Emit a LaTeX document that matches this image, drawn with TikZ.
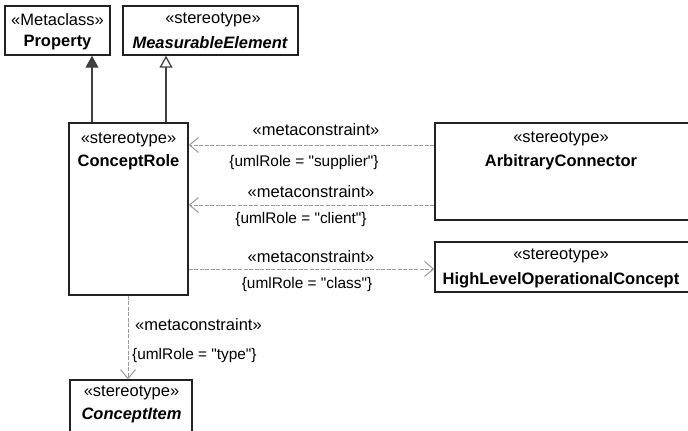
\documentclass[tikz,border=0pt]{standalone}
\usepackage{fontspec}
\setmainfont{Liberation Sans}[Ligatures=TeXOff]
\usetikzlibrary{arrows.meta}
\definecolor{boxline}{HTML}{222222}
\definecolor{genline}{HTML}{404040}
\definecolor{depline}{HTML}{9A9A9A}
\tikzset{
  umlbox/.style={draw=boxline, line width=1.4pt, fill=white, rectangle, inner sep=0pt},
  kw/.style={font=\fontsize{16.5}{19}\selectfont, inner sep=0pt, text=black},
  nm/.style={font=\fontsize{16.5}{19}\selectfont\bfseries, inner sep=0pt, text=black},
  nmi/.style={font=\fontsize{16.5}{19}\selectfont\bfseries\itshape, inner sep=0pt, text=black},
  cons/.style={font=\fontsize{15.4}{18}\selectfont, inner sep=0pt, text=black},
  gen/.style={draw=genline, line width=1.3pt},
  genfilled/.style={gen, -{Triangle[length=12pt,width=13pt,fill=genline]}},
  genopen/.style={gen, -{Triangle[open,length=12pt,width=13pt,fill=white]}},
  dep/.style={draw=depline, line width=1pt, dash pattern=on 4pt off 1.5pt, -{Straight Barb[length=9pt,width=15pt,line width=1pt]}}
}
\begin{document}
\begin{tikzpicture}[x=1pt,y=-1pt]
\useasboundingbox (0,0) rectangle (688,431);
% boxes
\node[umlbox, minimum width=105pt, minimum height=49pt] (prop) at (57.5,30.5) {};
\node[umlbox, minimum width=175pt, minimum height=49pt] (meas) at (210.5,30.5) {};
\node[umlbox, minimum width=119pt, minimum height=172pt] (role) at (128.5,209) {};
\node[umlbox, minimum width=258pt, minimum height=97pt] (arb) at (564,171.5) {};
\node[umlbox, minimum width=258pt, minimum height=50pt] (hloc) at (564,267) {};
\node[umlbox, minimum width=122pt, minimum height=60pt] (item) at (131,410) {};
% box texts
\node[kw] (propk) at (57.5,20) {«Metaclass»};
\node[nm] (propn) at (57.5,43) {Property};
\node[kw] (meask) at (213,20) {«stereotype»};
\node[nmi] (measn) at (210,43) {MeasurableElement};
\node[kw] (rolek) at (128.5,140) {«stereotype»};
\node[nm] (rolen) at (128.5,162) {ConceptRole};
\node[kw] (arbk) at (561,139) {«stereotype»};
\node[nm] (arbn) at (561,162) {ArbitraryConnector};
\node[kw] (hlock) at (561,256) {«stereotype»};
\node[nm] (hlocn) at (561,280) {HighLevelOperationalConcept};
\node[kw] (itemk) at (131.5,393) {«stereotype»};
\node[nmi] (itemn) at (131.5,415) {ConceptItem};
% generalizations
\draw[genfilled] (92,0 |- role.north) -- (92,0 |- prop.south);
\draw[genopen] (166,0 |- role.north) -- (166,0 |- meas.south);
% dependencies
\draw[dep] (arb.west |- 0,145) -- (role.east |- 0,145);
\draw[dep] (arb.west |- 0,205) -- (role.east |- 0,205);
\draw[dep] (role.east |- 0,269) -- (hloc.west |- 0,269);
\draw[dep] (128,0 |- role.south) -- (128,0 |- item.north);
% labels
\node[kw] (l1k) at (316,130) {«metaconstraint»};
\node[cons] (l1c) at (304,163) {\{umlRole = "supplier"\}};
\node[kw] (l2k) at (311,192) {«metaconstraint»};
\node[cons] (l2c) at (301,220) {\{umlRole = "client"\}};
\node[kw] (l3k) at (311,257) {«metaconstraint»};
\node[cons] (l3c) at (307,285) {\{umlRole = "class"\}};
\node[kw, anchor=west] (l4k) at (135,325) {«metaconstraint»};
\node[cons, anchor=west] (l4c) at (132,356) {\{umlRole = "type"\}};
\end{tikzpicture}
\end{document}
